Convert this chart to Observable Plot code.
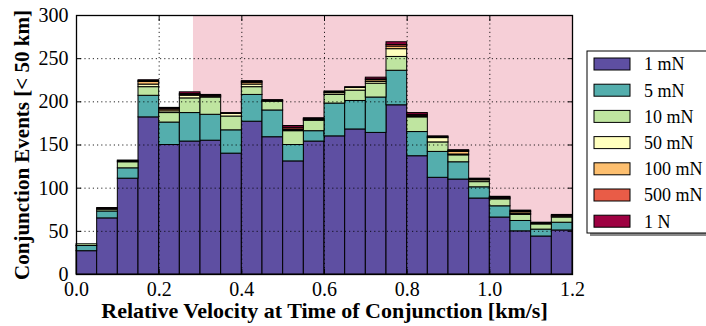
<!DOCTYPE html>
<html>
<head>
<meta charset="utf-8">
<script src="https://cdn.jsdelivr.net/npm/d3@7"></script>
<script src="https://cdn.jsdelivr.net/npm/@observablehq/plot@0.6"></script>
<style>
  html, body { margin: 0; padding: 0; background: #fff; }
  #chart svg { display: block; font-family: "Liberation Serif", "DejaVu Serif", serif; }
</style>
</head>
<body>
<div id="chart"></div>
<script>
// Histogram bins of relative velocity (km/s), left edges
const binStart = [0.00, 0.05, 0.10, 0.15, 0.20, 0.25, 0.30, 0.35, 0.40, 0.45, 0.50, 0.55,
                  0.60, 0.65, 0.70, 0.75, 0.80, 0.85, 0.90, 0.95, 1.00, 1.05, 1.10, 1.15];
const binWidth = 0.05;

// Thrust levels, bottom of the stack first
const forceLabels = ["1 mN", "5 mN", "10 mN", "50 mN", "100 mN", "500 mN", "1 N"];
const forceColors = ["#5e4fa2", "#54aead", "#bfe5a0", "#ffffbe", "#fdbf6f", "#e95c47", "#9e0142"];

// Conjunction events per bin for each thrust level
const events1mN   = [27, 65, 111, 182, 150, 154, 155, 140, 177, 159, 131, 154, 160, 168, 164, 196, 137, 112, 110, 88, 66, 50, 44, 51];
const events5mN   = [ 6,  8,  12,  25,  26,  33,  30,  27,  31,  31,  19,  12,  38,  33,  41,  40,  28,  30,  20, 13, 13, 12,  8,  9];
const events10mN  = [ 2,  2,   7,  10,  11,  17,  20,  16,   9,  10,  16,  12,  10,  12,  16,  16,  17,  11,   8,  6,  8,  7,  6,  6];
const events50mN  = [ 0,  1,   1,   3,   2,   3,   1,   3,   3,   1,   1,   1,   2,   3,   2,   9,   1,   5,   1,  2,  1,  1,  1,  1];
const events100mN = [ 0,  0,   0,   3,   2,   1,   1,   0,   2,   0,   1,   1,   0,   0,   2,   3,   1,   1,   3,  1,  1,  2,  0,  1];
const events500mN = [ 0,  0,   0,   1,   1,   1,   0,   0,   1,   0,   2,   0,   1,   0,   1,   2,   1,   0,   1,  0,  0,  1,  0,  0];
const events1N    = [ 0,  1,   1,   1,   1,   2,   1,   1,   1,   1,   2,   1,   1,   1,   2,   3,   2,   1,   1,  1,  1,  1,  1,  1];

const xDomain = [0, 1.2];
const yDomain = [0, 300];
const xTicks = [0, 0.2, 0.4, 0.6, 0.8, 1.0, 1.2];
const yTicks = [0, 50, 100, 150, 200, 250, 300];

// Shaded velocity band
const shadedFrom = 0.283;
const shadeColor = "#f6cfd7";

const xLabel = "Relative Velocity at Time of Conjunction [km/s]";
const yLabel = "Conjunction Events [< 50 km]";

const seriesByForce = [events1mN, events5mN, events10mN, events50mN, events100mN, events500mN, events1N];
const table = [];
forceLabels.forEach((force, k) => {
  binStart.forEach((x, i) => {
    table.push({force, x1: x, x2: x + binWidth, count: seriesByForce[k][i]});
  });
});

const band = [{x1: shadedFrom, x2: xDomain[1], y1: yDomain[0], y2: yDomain[1]}];

const plot = Plot.plot({
  width: 706,
  height: 326,
  marginLeft: 76,
  marginRight: 134,
  marginTop: 15,
  marginBottom: 52,
  style: {fontSize: "20px", fontFamily: "Liberation Serif, serif", color: "black", background: "white"},
  x: {domain: xDomain},
  y: {domain: yDomain},
  color: {domain: forceLabels, range: forceColors},
  marks: [
    Plot.rect(band, {x1: "x1", x2: "x2", y1: "y1", y2: "y2", fill: shadeColor}),
    Plot.rectY(table, {x1: "x1", x2: "x2", y: "count", fill: "force", stroke: "black", strokeWidth: 1}),
    Plot.gridX({ticks: xTicks, stroke: "black", strokeOpacity: 0.85, strokeDasharray: "1.2,3"}),
    Plot.gridY({ticks: yTicks, stroke: "black", strokeOpacity: 0.85, strokeDasharray: "1.2,3"}),
    Plot.axisX({ticks: xTicks, tickFormat: d3.format(".1f"), tickSize: -5, tickPadding: 12, label: null, fontSize: 20}),
    Plot.axisX({anchor: "top", ticks: xTicks, tickFormat: () => "", tickSize: -5, label: null}),
    Plot.axisY({ticks: yTicks, tickSize: -5, tickPadding: 13, label: null, fontSize: 20}),
    Plot.axisY({anchor: "right", ticks: yTicks, tickFormat: () => "", tickSize: -5, label: null}),
    Plot.frame({stroke: "black", strokeWidth: 1.3}),
    Plot.text([xLabel], {text: d => d, frameAnchor: "bottom", lineAnchor: "middle", textAnchor: "middle",
                         dy: 36, fontWeight: "bold", fontSize: 22}),
    Plot.text([yLabel], {text: d => d, frameAnchor: "left", lineAnchor: "middle", textAnchor: "middle",
                         rotate: -90, dx: -54, fontWeight: "bold", fontSize: 21})
  ]
});

// Legend box on the right
const svg = d3.select(plot);
const legend = svg.append("g")
  .attr("font-family", "Liberation Serif, serif")
  .attr("font-size", 18)
  .attr("text-anchor", "start");
legend.append("rect").attr("x", 590).attr("y", 54).attr("width", 140).attr("height", 182).attr("fill", "#888");
legend.append("rect").attr("x", 587).attr("y", 51).attr("width", 140).attr("height", 182)
  .attr("fill", "white").attr("stroke", "black").attr("stroke-width", 1);
forceLabels.forEach((label, i) => {
  const cy = 64 + i * 26.2;
  legend.append("rect").attr("x", 594).attr("y", cy - 6).attr("width", 36).attr("height", 12)
    .attr("fill", forceColors[i]).attr("stroke", "black").attr("stroke-width", 1);
  legend.append("text").attr("x", 644).attr("y", cy).attr("dy", "0.35em").attr("fill", "black").text(label);
});

document.getElementById("chart").appendChild(plot);
</script>
</body>
</html>
